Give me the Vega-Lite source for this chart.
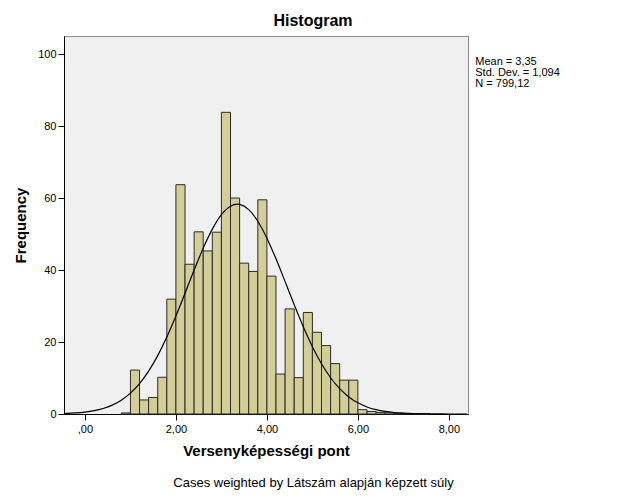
{
  "$schema": "https://vega.github.io/schema/vega-lite/v6.json",
  "width": 404,
  "height": 378,
  "autosize": "none",
  "padding": {"left": 64, "top": 36, "right": 158, "bottom": 87},
  "background": "white",
  "config": {
    "font": "Liberation Sans",
    "view": {"fill": "#F0F0F0", "stroke": "#8c8c8c", "strokeWidth": 1}
  },
  "title": {"text": "Histogram", "font": "Liberation Sans", "fontSize": 16, "fontWeight": "bold", "color": "black", "anchor": "middle", "dx": 47, "offset": 7},
  "datasets": {
    "bars": [
      {"start": 0.8, "end": 1.0, "freq": 0.3},
      {"start": 1.0, "end": 1.2, "freq": 12.2},
      {"start": 1.2, "end": 1.4, "freq": 3.9},
      {"start": 1.4, "end": 1.6, "freq": 4.6},
      {"start": 1.6, "end": 1.8, "freq": 10.2},
      {"start": 1.8, "end": 2.0, "freq": 31.9},
      {"start": 2.0, "end": 2.2, "freq": 63.7},
      {"start": 2.2, "end": 2.4, "freq": 41.6},
      {"start": 2.4, "end": 2.6, "freq": 50.6},
      {"start": 2.6, "end": 2.8, "freq": 45.3},
      {"start": 2.8, "end": 3.0, "freq": 50.5},
      {"start": 3.0, "end": 3.2, "freq": 83.8},
      {"start": 3.2, "end": 3.4, "freq": 60.0},
      {"start": 3.4, "end": 3.6, "freq": 41.9},
      {"start": 3.6, "end": 3.8, "freq": 39.6},
      {"start": 3.8, "end": 4.0, "freq": 59.5},
      {"start": 4.0, "end": 4.2, "freq": 38.3},
      {"start": 4.2, "end": 4.4, "freq": 11.1},
      {"start": 4.4, "end": 4.6, "freq": 29.2},
      {"start": 4.6, "end": 4.8, "freq": 10.1},
      {"start": 4.8, "end": 5.0, "freq": 28.2},
      {"start": 5.0, "end": 5.2, "freq": 22.7},
      {"start": 5.2, "end": 5.4, "freq": 19.0},
      {"start": 5.4, "end": 5.6, "freq": 14.0},
      {"start": 5.6, "end": 5.8, "freq": 9.4},
      {"start": 5.8, "end": 6.0, "freq": 9.4},
      {"start": 6.0, "end": 6.2, "freq": 1.2},
      {"start": 6.2, "end": 6.4, "freq": 0.7},
      {"start": 6.4, "end": 6.6, "freq": 0.45},
      {"start": 6.6, "end": 6.8, "freq": 0.35},
      {"start": 6.8, "end": 7.0, "freq": 0.2},
      {"start": 7.0, "end": 7.2, "freq": 0.15},
      {"start": 7.2, "end": 7.4, "freq": 0.1},
      {"start": 7.4, "end": 7.6, "freq": 0.05}
    ],
    "curve": [
      {"x": -0.45, "y": 0.140},
      {"x": -0.4, "y": 0.164},
      {"x": -0.2, "y": 0.301},
      {"x": 0.0, "y": 0.537},
      {"x": 0.2, "y": 0.923},
      {"x": 0.4, "y": 1.537},
      {"x": 0.6, "y": 2.474},
      {"x": 0.8, "y": 3.853},
      {"x": 1.0, "y": 5.802},
      {"x": 1.2, "y": 8.452},
      {"x": 1.4, "y": 11.902},
      {"x": 1.6, "y": 16.213},
      {"x": 1.8, "y": 21.361},
      {"x": 2.0, "y": 27.218},
      {"x": 2.2, "y": 33.541},
      {"x": 2.4, "y": 39.975},
      {"x": 2.6, "y": 46.076},
      {"x": 2.8, "y": 51.361},
      {"x": 3.0, "y": 55.372},
      {"x": 3.2, "y": 57.735},
      {"x": 3.35, "y": 58.28},
      {"x": 3.4, "y": 58.219},
      {"x": 3.6, "y": 56.778},
      {"x": 3.8, "y": 53.553},
      {"x": 4.0, "y": 48.850},
      {"x": 4.2, "y": 43.096},
      {"x": 4.4, "y": 36.769},
      {"x": 4.6, "y": 30.339},
      {"x": 4.8, "y": 24.214},
      {"x": 5.0, "y": 18.688},
      {"x": 5.2, "y": 13.949},
      {"x": 5.4, "y": 10.070},
      {"x": 5.6, "y": 7.031},
      {"x": 5.8, "y": 4.748},
      {"x": 6.0, "y": 3.100},
      {"x": 6.2, "y": 1.958},
      {"x": 6.4, "y": 1.196},
      {"x": 6.6, "y": 0.707},
      {"x": 6.8, "y": 0.404},
      {"x": 7.0, "y": 0.223},
      {"x": 7.2, "y": 0.119},
      {"x": 7.4, "y": 0.062},
      {"x": 7.6, "y": 0.031},
      {"x": 7.8, "y": 0.015},
      {"x": 8.0, "y": 0.007},
      {"x": 8.2, "y": 0.003},
      {"x": 8.4, "y": 0.001}
    ],
    "stats": [
      {"label": "Mean = 3,35\nStd. Dev. = 1,094\nN = 799,12"}
    ]
  },
  "layer": [
    {
      "data": {"name": "bars"},
      "mark": {"type": "bar", "fill": "#D3CE97", "stroke": "#2b2b2b", "strokeWidth": 1, "opacity": 1},
      "encoding": {
        "x": {
          "field": "start", "type": "quantitative",
          "scale": {"domain": [-0.46, 8.42], "nice": false, "zero": false},
          "axis": {
            "orient": "bottom",
            "values": [0, 2, 4, 6, 8],
            "labelExpr": "datum.value == 0 ? ',00' : replace(format(datum.value, '.2f'), '.', ',')",
            "grid": false, "tickSize": 6, "tickColor": "black", "domainColor": "black",
            "labelFontSize": 11, "labelColor": "black", "labelPadding": 3, "labelFont": "Liberation Sans",
            "title": "Versenyképességi pont", "titleFontSize": 15, "titleFontWeight": "bold", "titleColor": "black",
            "titlePadding": 9, "titleFont": "Liberation Sans"
          }
        },
        "x2": {"field": "end"},
        "y": {
          "field": "freq", "type": "quantitative",
          "title": "Frequency",
          "scale": {"domain": [0, 105], "nice": false},
          "axis": {
            "values": [0, 20, 40, 60, 80, 100], "format": "d",
            "grid": false, "tickSize": 6, "tickColor": "black", "domainColor": "black",
            "labelFontSize": 11, "labelColor": "black", "labelPadding": 2, "labelFont": "Liberation Sans",
            "titleFontSize": 15, "titleFontWeight": "bold", "titleColor": "black",
            "titlePadding": 9, "titleFont": "Liberation Sans"
          }
        },
        "y2": {"datum": 0}
      }
    },
    {
      "data": {"name": "curve"},
      "mark": {"type": "line", "color": "black", "strokeWidth": 1.2, "interpolate": "monotone", "clip": true},
      "encoding": {
        "x": {
          "field": "x", "type": "quantitative",
          "axis": {
            "orient": "bottom",
            "labels": false, "ticks": false, "domain": false, "grid": false,
            "title": "Cases weighted by Látszám alapján képzett súly",
            "titleFontSize": 13, "titleFontWeight": "normal", "titleColor": "black", "titleFont": "Liberation Sans",
            "titleX": 249, "titleY": 62, "titleAlign": "center", "titleBaseline": "top"
          }
        },
        "y": {"field": "y", "type": "quantitative", "title": "Frequency"}
      }
    },
    {
      "data": {"name": "stats"},
      "mark": {"type": "text", "align": "left", "baseline": "top", "fontSize": 11, "lineHeight": 11, "lineBreak": "\n", "color": "black", "font": "Liberation Sans"},
      "encoding": {
        "x": {"datum": 8.58, "type": "quantitative", "axis": null},
        "y": {"datum": 99.5, "type": "quantitative", "title": "Frequency"},
        "text": {"field": "label"}
      }
    }
  ],
  "resolve": {"axis": {"x": "independent"}}
}
